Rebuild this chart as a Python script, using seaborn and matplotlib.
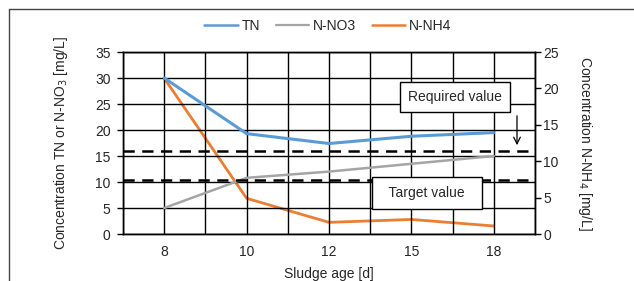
import matplotlib
matplotlib.use("Agg")
import matplotlib.pyplot as plt
import seaborn as sns
import pandas as pd
from matplotlib.lines import Line2D

sns.set_theme(style="white")
plt.rcParams['font.family'] = ['Liberation Sans', 'DejaVu Sans']

sludge_age = ["8", "10", "12", "15", "18"]
tn = [30.0, 19.3, 17.4, 18.8, 19.5]
n_no3 = [5.0, 10.8, 12.0, 13.5, 15.0]
n_nh4 = [21.4, 4.9, 1.6, 2.0, 1.1]
required_value = 16.0
target_value = 10.3

pos = list(range(len(sludge_age)))
df_left = pd.DataFrame({"x": pos * 2, "y": tn + n_no3,
                        "series": ["TN"] * 5 + ["N-NO3"] * 5})
df_right = pd.DataFrame({"x": pos, "y": n_nh4, "series": ["N-NH4"] * 5})

c_tn = "#5B9BD5"
c_no3 = "#A5A5A5"
c_nh4 = "#ED7D31"

fig = plt.figure(figsize=(6.34, 2.81), dpi=100)
ax = fig.add_axes([123/634, 1-234/281, (535-123)/634, (234-52)/281])
ax2 = ax.twinx()

# grid
for v in range(0, 36, 5):
    ax.axhline(v, color="black", lw=1.0, zorder=1)
for k in range(0, 2*len(pos)+1):
    ax.axvline(-0.5 + k*0.5, color="black", lw=1.0, zorder=1)

sns.lineplot(data=df_left[df_left.series == "TN"], x="x", y="y", ax=ax,
             color=c_tn, lw=2.2, legend=False, zorder=4)
sns.lineplot(data=df_left[df_left.series == "N-NO3"], x="x", y="y", ax=ax,
             color=c_no3, lw=1.8, legend=False, zorder=3)
sns.lineplot(data=df_right, x="x", y="y", ax=ax2, color=c_nh4, lw=2.0,
             legend=False, zorder=4)

ax.axhline(required_value, color="black", lw=1.8, ls=(0, (4.5, 3)), zorder=5)
ax.axhline(target_value, color="black", lw=1.8, ls=(0, (4.5, 3)), zorder=5)

ax.set_xlim(-0.5, len(pos) - 0.5)
ax.set_ylim(0, 35)
ax2.set_ylim(0, 25)
ax.set_yticks(range(0, 36, 5))
ax2.set_yticks(range(0, 26, 5))
ax.set_xticks(pos)
ax.set_xticklabels(sludge_age)
ax.set_xticks([p + 0.5 for p in [-1] + pos], minor=True)

ax.tick_params(axis="x", which="major", length=0, pad=8, labelsize=10)
ax.tick_params(axis="x", which="minor", length=4, width=1, color="black", direction="out")
ax.tick_params(axis="y", length=4, width=1, color="black", direction="out", labelsize=10, pad=5)
ax2.tick_params(axis="y", length=4, width=1, color="black", direction="out", labelsize=10, pad=2)

for a in (ax, ax2):
    for s in a.spines.values():
        s.set_color("black")
        s.set_linewidth(1.0)
    a.set_facecolor("none")
ax.set_zorder(ax2.get_zorder() + 1)
ax.patch.set_visible(False)

ax.set_xlabel("Sludge age [d]", fontsize=10, labelpad=6)
ax.set_ylabel("Concentration TN or N-NO$_3$ [mg/L]", fontsize=10, labelpad=18)
ax2.set_ylabel("Concentration N-NH$_4$ [mg/L]", fontsize=10, rotation=270,
               labelpad=25)

# annotation boxes
fig.text(455/634, 1-97/281, "Required value", ha="center", va="center",
         fontsize=10, bbox=dict(boxstyle="square,pad=0.55", fc="white", ec="black", lw=1.0), zorder=10)
fig.text(427/634, 1-193/281, "  Target value  ", ha="center", va="center",
         fontsize=10, bbox=dict(boxstyle="square,pad=0.65", fc="white", ec="black", lw=1.0), zorder=10)
ax.annotate("", xy=(517/634, 1-148/281), xytext=(517/634, 1-113/281),
            xycoords="figure fraction", textcoords="figure fraction",
            arrowprops=dict(arrowstyle="->", color="black", lw=0.9,
                            mutation_scale=12), zorder=10)

handles = [Line2D([], [], color=c_tn, lw=1.8),
           Line2D([], [], color=c_no3, lw=1.6),
           Line2D([], [], color=c_nh4, lw=1.8)]
fig.legend(handles, ["TN", "N-NO3", "N-NH4"], loc="center",
           bbox_to_anchor=(328/634, 1-26/281), ncol=3, frameon=False,
           fontsize=10, handlelength=2.4, columnspacing=1.1, handletextpad=0.3)

# outer frame
fig.add_artist(Line2D([9/634, 9/634], [0, 1-9/281], color="#444444", lw=1.0,
                      transform=fig.transFigure))
fig.add_artist(Line2D([9/634, 1], [1-9/281, 1-9/281], color="#444444", lw=1.0,
                      transform=fig.transFigure))

fig.savefig("out.png", dpi=100, facecolor="white")
